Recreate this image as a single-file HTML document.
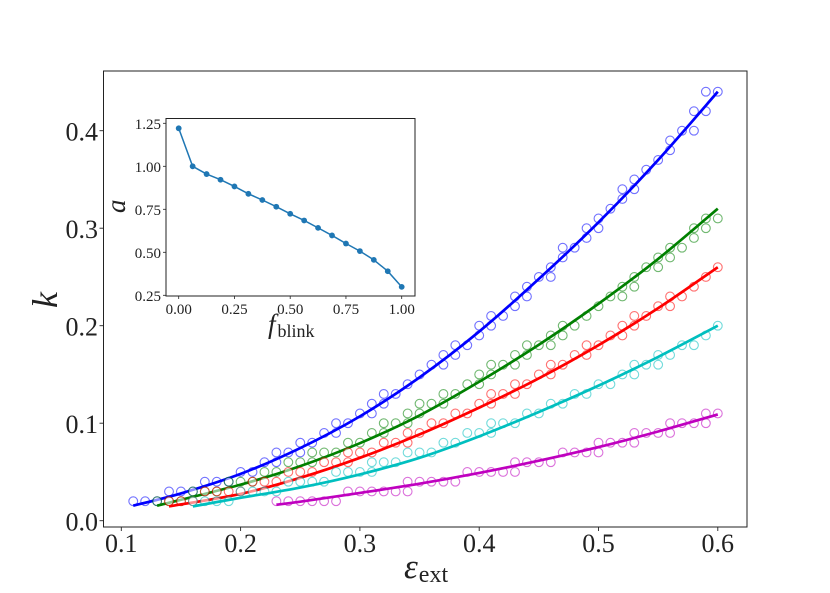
<!DOCTYPE html>
<html>
<head>
<meta charset="utf-8">
<title>k vs epsilon ext</title>
<style>
html,body{margin:0;padding:0;background:#fff;}
svg{display:block;}
text{font-family:"Liberation Serif",serif;fill:#222;}
</style>
</head>
<body>
<svg id="chart" width="830" height="593" viewBox="0 0 830 593" xmlns="http://www.w3.org/2000/svg">
<rect x="0" y="0" width="830" height="593" fill="#fff"/>
<g id="main"></g>
<g id="inset"></g>
<text x="404" y="578" font-size="35" font-style="italic">ε<tspan font-size="24" font-style="normal" dy="4" dx="1">ext</tspan></text>
<text transform="translate(57,308) rotate(-90)" font-size="36" font-style="italic">k</text>
<text x="268" y="333" font-size="27" font-style="italic">f<tspan font-size="18" font-style="normal" dy="4" dx="2">blink</tspan></text>
<text transform="translate(125,213) rotate(-90)" font-size="27" font-style="italic">a</text>
</svg>
<script>
var blueMarkers = [[.11,.02],[.12,.02],[.13,.02],[.14,.03],[.15,.03],[.16,.03],[.17,.04],[.18,.04],[.19,.04],[.20,.05],[.21,.05],[.22,.06],[.23,.06],[.23,.07],[.24,.07],[.25,.07],[.25,.08],[.26,.08],[.27,.09],[.28,.09],[.28,.10],[.29,.10],[.30,.11],[.31,.11],[.31,.12],[.32,.12],[.32,.13],[.33,.13],[.34,.14],[.35,.15],[.36,.16],[.37,.16],[.37,.17],[.38,.17],[.38,.18],[.39,.18],[.40,.19],[.40,.20],[.41,.20],[.41,.21],[.42,.21],[.43,.22],[.43,.23],[.44,.23],[.44,.24],[.45,.25],[.46,.25],[.46,.26],[.47,.27],[.47,.28],[.48,.28],[.49,.29],[.49,.30],[.50,.30],[.50,.31],[.51,.32],[.52,.33],[.52,.34],[.53,.34],[.53,.35],[.54,.36],[.55,.37],[.56,.38],[.56,.39],[.57,.40],[.58,.40],[.58,.42],[.59,.42],[.59,.44],[.60,.44]];
var greenMarkers = [[.13,.02],[.14,.02],[.15,.02],[.16,.03],[.17,.03],[.18,.03],[.19,.04],[.20,.04],[.21,.04],[.22,.05],[.23,.05],[.24,.06],[.25,.06],[.26,.06],[.26,.07],[.27,.07],[.28,.07],[.29,.08],[.30,.08],[.31,.09],[.32,.09],[.32,.10],[.33,.10],[.34,.10],[.34,.11],[.35,.11],[.35,.12],[.36,.12],[.37,.12],[.37,.13],[.38,.13],[.39,.14],[.40,.14],[.40,.15],[.41,.15],[.41,.16],[.42,.16],[.43,.16],[.43,.17],[.44,.17],[.44,.18],[.45,.18],[.46,.18],[.46,.19],[.47,.19],[.47,.20],[.48,.20],[.49,.21],[.50,.22],[.51,.23],[.52,.23],[.52,.24],[.53,.24],[.53,.25],[.54,.26],[.55,.26],[.55,.27],[.56,.27],[.56,.28],[.57,.28],[.58,.29],[.58,.30],[.59,.30],[.59,.31],[.60,.31]];
var redMarkers = [[.14,.02],[.15,.02],[.16,.02],[.17,.03],[.18,.03],[.19,.03],[.20,.03],[.21,.04],[.22,.04],[.23,.04],[.24,.05],[.25,.05],[.26,.05],[.27,.06],[.28,.06],[.29,.06],[.29,.07],[.30,.07],[.31,.07],[.32,.08],[.33,.08],[.34,.08],[.34,.09],[.35,.09],[.36,.10],[.37,.10],[.38,.11],[.39,.11],[.40,.12],[.41,.12],[.41,.13],[.42,.13],[.43,.13],[.43,.14],[.44,.14],[.45,.15],[.46,.15],[.46,.16],[.47,.16],[.48,.17],[.49,.17],[.49,.18],[.50,.18],[.51,.19],[.52,.19],[.52,.20],[.53,.20],[.53,.21],[.54,.21],[.55,.22],[.56,.22],[.56,.23],[.57,.23],[.58,.24],[.59,.25],[.60,.26]];
var cyanMarkers = [[.16,.02],[.17,.02],[.18,.02],[.19,.02],[.20,.03],[.21,.03],[.22,.03],[.23,.03],[.24,.04],[.25,.04],[.26,.04],[.27,.04],[.28,.05],[.29,.05],[.30,.05],[.31,.05],[.31,.06],[.32,.06],[.33,.06],[.34,.07],[.35,.07],[.36,.07],[.37,.08],[.38,.08],[.39,.09],[.40,.09],[.41,.09],[.41,.10],[.42,.10],[.43,.10],[.44,.11],[.45,.11],[.46,.12],[.47,.12],[.48,.13],[.49,.13],[.50,.14],[.51,.14],[.52,.15],[.53,.15],[.53,.16],[.54,.16],[.55,.16],[.55,.17],[.56,.17],[.57,.18],[.58,.18],[.59,.19],[.60,.20]];
var magentaMarkers = [[.23,.02],[.24,.02],[.25,.02],[.26,.02],[.27,.02],[.28,.02],[.29,.03],[.30,.03],[.31,.03],[.32,.03],[.33,.03],[.34,.03],[.34,.04],[.35,.04],[.36,.04],[.37,.04],[.38,.04],[.39,.05],[.40,.05],[.41,.05],[.42,.05],[.43,.05],[.43,.06],[.44,.06],[.45,.06],[.46,.06],[.47,.07],[.48,.07],[.49,.07],[.50,.07],[.50,.08],[.51,.08],[.52,.08],[.53,.08],[.53,.09],[.54,.09],[.55,.09],[.56,.09],[.56,.10],[.57,.10],[.58,.10],[.59,.10],[.59,.11],[.60,.11]];

var blueFitX = [.11,.15,.20,.25,.30,.35,.40,.45,.50,.55,.60];
var blueFitK = [.0154,.028,.048,.0745,.107,.147,.194,.248,.306,.37,.44];
var greenFitX = [.13,.20,.25,.30,.35,.40,.45,.50,.55,.60];
var greenFitK = [.0154,.037,.056,.0795,.108,.1425,.1805,.2225,.2685,.32];
var redFitX = [.14,.20,.25,.30,.35,.40,.45,.50,.55,.60];
var redFitK = [.0147,.0275,.044,.0645,.0885,.116,.146,.18,.218,.26];
var cyanFitX = [.16,.20,.25,.30,.35,.40,.45,.50,.55,.60];
var cyanFitK = [.0147,.0235,.034,.0475,.0645,.0865,.1115,.1385,.168,.20];
var magentaFitX = [.23,.25,.30,.35,.40,.45,.50,.55,.60];
var magentaFitK = [.0164,.0195,.0285,.038,.049,.0615,.0755,.0915,.109];

var mainXTicks = [0.1,0.2,0.3,0.4,0.5,0.6];
var mainYTicks = [0.0,0.1,0.2,0.3,0.4];
var mainXTickLabels = ["0.1","0.2","0.3","0.4","0.5","0.6"];
var mainYTickLabels = ["0.0","0.1","0.2","0.3","0.4"];

var insetF = [0,.0625,.125,.1875,.25,.3125,.375,.4375,.5,.5625,.625,.6875,.75,.8125,.875,.9375,1];
var insetA = [1.221,1.0,.955,.922,.883,.84,.804,.765,.724,.685,.642,.598,.551,.507,.456,.39,.299];
var insetXTicks = [0,0.25,0.5,0.75,1];
var insetYTicks = [0.25,0.5,0.75,1,1.25];
var insetXTickLabels = ["0.00","0.25","0.50","0.75","1.00"];
var insetYTickLabels = ["0.25","0.50","0.75","1.00","1.25"];

var NS = "http://www.w3.org/2000/svg";
function mk(parent, tag, attrs, txt){
  var e = document.createElementNS(NS, tag);
  for (var key in attrs) { e.setAttribute(key, attrs[key]); }
  if (txt !== undefined) { e.textContent = txt; }
  parent.appendChild(e);
  return e;
}
function xMain(v){ return 121.3 + (v - 0.1) * 1193; }
function yMain(v){ return 520.7 - v * 975; }
function xInset(v){ return 178.7 + v * 223; }
function yInset(v){ return 295.3 - (v - 0.25) * 172; }

function smoothPath(xs, ys, sx, sy){
  var p = xs.map(function(v, i){ return [sx(v), sy(ys[i])]; });
  var d = "M" + p[0][0].toFixed(2) + " " + p[0][1].toFixed(2);
  for (var i = 0; i < p.length - 1; i++) {
    var a = p[Math.max(i - 1, 0)], b = p[i], c = p[i + 1], e = p[Math.min(i + 2, p.length - 1)];
    d += " C" + (b[0] + (c[0] - a[0]) / 6).toFixed(2) + " " + (b[1] + (c[1] - a[1]) / 6).toFixed(2) +
         " " + (c[0] - (e[0] - b[0]) / 6).toFixed(2) + " " + (c[1] - (e[1] - b[1]) / 6).toFixed(2) +
         " " + c[0].toFixed(2) + " " + c[1].toFixed(2);
  }
  return d;
}

var main = document.getElementById("main");
var inset = document.getElementById("inset");

var allSeries = [
  {name:"blue", color:"#0000ff", markers:blueMarkers, fx:blueFitX, fk:blueFitK},
  {name:"green", color:"#008000", markers:greenMarkers, fx:greenFitX, fk:greenFitK},
  {name:"red", color:"#ff0000", markers:redMarkers, fx:redFitX, fk:redFitK},
  {name:"cyan", color:"#00bfbf", markers:cyanMarkers, fx:cyanFitX, fk:cyanFitK},
  {name:"magenta", color:"#bf00bf", markers:magentaMarkers, fx:magentaFitX, fk:magentaFitK}
];

allSeries.forEach(function(s){
  s.markers.forEach(function(m){
    var c = mk(main, "circle", {cx:xMain(m[0]).toFixed(2), cy:yMain(m[1]).toFixed(2), r:4.4, fill:"#fff", stroke:s.color, "stroke-width":1.1, opacity:0.55});
    
    
  });
  var l = mk(main, "path", {d:smoothPath(s.fx, s.fk, xMain, yMain), fill:"none", stroke:s.color, "stroke-width":2.7, "stroke-linecap":"butt"});
  
  
});

var frame = mk(main, "rect", {x:103.5, y:71, width:643.5, height:456, fill:"none", stroke:"#222", "stroke-width":1});



mainXTicks.forEach(function(v, i){
  var t = mk(main, "line", {x1:xMain(v), x2:xMain(v), y1:527, y2:531, stroke:"#222", "stroke-width":0.9});
  
  
  var lab = mk(main, "text", {x:xMain(v), y:552, "font-size":26, "text-anchor":"middle"}, mainXTickLabels[i]);
  
  
});
mainYTicks.forEach(function(v, i){
  var t = mk(main, "line", {x1:99.5, x2:103.5, y1:yMain(v), y2:yMain(v), stroke:"#222", "stroke-width":0.9});
  
  
  var lab = mk(main, "text", {x:98, y:yMain(v) + 10, "font-size":26, "text-anchor":"end"}, mainYTickLabels[i]);
  
  
});

var ibg = mk(inset, "rect", {x:166, y:118, width:249, height:178, fill:"#fff", stroke:"none"});



var insetPts = insetF.map(function(v, i){ return xInset(v).toFixed(2) + "," + yInset(insetA[i]).toFixed(2); }).join(" ");
var iline = mk(inset, "polyline", {points:insetPts, fill:"none", stroke:"#1f77b4", "stroke-width":1.5});


insetF.forEach(function(v, i){
  var c = mk(inset, "circle", {cx:xInset(v).toFixed(2), cy:yInset(insetA[i]).toFixed(2), r:2.9, fill:"#1f77b4"});
  
  
});
var iframe = mk(inset, "rect", {x:166, y:118.5, width:249, height:177.5, fill:"none", stroke:"#222", "stroke-width":1});



insetXTicks.forEach(function(v, i){
  var t = mk(inset, "line", {x1:xInset(v), x2:xInset(v), y1:296, y2:299, stroke:"#222", "stroke-width":0.8});
  
  
  var lab = mk(inset, "text", {x:xInset(v), y:314, "font-size":15, "text-anchor":"middle"}, insetXTickLabels[i]);
  
  
});
insetYTicks.forEach(function(v, i){
  var t = mk(inset, "line", {x1:163, x2:166, y1:yInset(v), y2:yInset(v), stroke:"#222", "stroke-width":0.8});
  
  
  var lab = mk(inset, "text", {x:161, y:yInset(v) + 5.5, "font-size":15, "text-anchor":"end"}, insetYTickLabels[i]);
  
  
});
</script>
</body>
</html>
